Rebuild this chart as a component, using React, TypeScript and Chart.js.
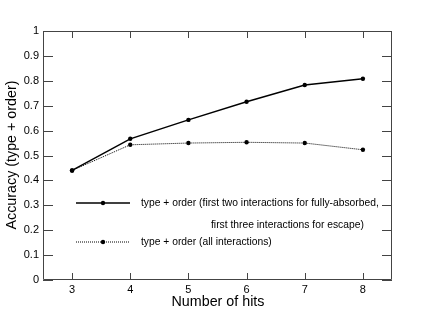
import React, { useEffect, useRef } from "react";
import { Chart, registerables } from "chart.js";

Chart.register(...registerables);

const hits = [3, 4, 5, 6, 7, 8];
const firstInteractions = [0.44, 0.567, 0.643, 0.716, 0.783, 0.808];
const allInteractions = [0.44, 0.543, 0.55, 0.553, 0.55, 0.523];
const yTicks = [0, 0.1, 0.2, 0.3, 0.4, 0.5, 0.6, 0.7, 0.8, 0.9, 1];
const legendLines1 = [
  "type + order (first two interactions for fully-absorbed,",
  "first three interactions for escape)",
];
const legendLines2 = ["type + order (all interactions)"];
const xTitle = "Number of hits";
const yTitle = "Accuracy (type + order)";

const FONT = "'Liberation Sans', Arial, Helvetica, sans-serif";

const framePlugin = {
  id: "rootFrame",
  afterDraw(chart: any) {
    const { ctx, chartArea: a, scales } = chart;
    const xs = scales.x;
    const ys = scales.y;
    ctx.save();
    ctx.strokeStyle = "#444";
    ctx.lineWidth = 1;
    ctx.beginPath();
    ctx.rect(a.left + 0.5, a.top + 0.5, a.right - a.left - 1, a.bottom - a.top - 1);
    ctx.stroke();
    ctx.beginPath();
    hits.forEach((h) => {
      const px = Math.round(xs.getPixelForValue(h)) + 0.5;
      ctx.moveTo(px, a.bottom);
      ctx.lineTo(px, a.bottom - 7);
      ctx.moveTo(px, a.top);
      ctx.lineTo(px, a.top + 7);
    });
    yTicks.forEach((v) => {
      const py = Math.round(ys.getPixelForValue(v)) + 0.5;
      ctx.moveTo(a.left, py);
      ctx.lineTo(a.left + 10, py);
      ctx.moveTo(a.right, py);
      ctx.lineTo(a.right - 10, py);
    });
    ctx.stroke();

    // axis titles
    ctx.fillStyle = "#000";
    ctx.font = `14.3px ${FONT}`;
    ctx.textAlign = "center";
    ctx.textBaseline = "middle";
    ctx.fillText(xTitle, 218, 302);
    ctx.translate(12, 155);
    ctx.rotate(-Math.PI / 2);
    ctx.fillText(yTitle, 0, 0);
    ctx.restore();

    // legend
    ctx.save();
    const drawEntry = (y: number, dash: number[], lw: number) => {
      ctx.strokeStyle = "#000";
      ctx.lineWidth = lw;
      ctx.setLineDash(dash);
      ctx.beginPath();
      ctx.moveTo(76, y);
      ctx.lineTo(130, y);
      ctx.stroke();
      ctx.setLineDash([]);
      ctx.fillStyle = "#000";
      ctx.beginPath();
      ctx.arc(103, y, 2.2, 0, Math.PI * 2);
      ctx.fill();
    };
    drawEntry(203, [], 1.5);
    drawEntry(242, [1, 1], 1);
    ctx.fillStyle = "#000";
    ctx.font = `10.3px ${FONT}`;
    ctx.textBaseline = "middle";
    ctx.textAlign = "left";
    ctx.fillText(legendLines1[0], 141, 203);
    ctx.fillText(legendLines1[1], 211, 225);
    ctx.fillText(legendLines2[0], 141, 242);
    ctx.restore();
  },
};

export default function App() {
  const ref = useRef<HTMLCanvasElement>(null);
  useEffect(() => {
    if (!ref.current) return;
    const chart = new Chart(ref.current, {
      type: "line",
      data: {
        datasets: [
          {
            label: legendLines1.join(" "),
            data: hits.map((h, i) => ({ x: h, y: firstInteractions[i] })),
            borderColor: "#000",
            backgroundColor: "#000",
            borderWidth: 1.5,
            pointRadius: 2.2,
            pointHoverRadius: 2.2,
            pointBorderWidth: 0,
            tension: 0,
          },
          {
            label: legendLines2[0],
            data: hits.map((h, i) => ({ x: h, y: allInteractions[i] })),
            borderColor: "#000",
            backgroundColor: "#000",
            borderWidth: 1,
            borderDash: [1, 1],
            pointRadius: 2.2,
            pointHoverRadius: 2.2,
            pointBorderWidth: 0,
            tension: 0,
          },
        ],
      },
      plugins: [framePlugin],
      options: {
        animation: false,
        responsive: false,
        events: [],
        layout: { padding: { top: 31, right: 44, left: 0, bottom: 0 } },
        plugins: { legend: { display: false }, tooltip: { enabled: false } },
        scales: {
          x: {
            type: "linear",
            min: 2.5,
            max: 8.5,
            afterBuildTicks: (s: any) => {
              s.ticks = hits.map((v) => ({ value: v }));
            },
            afterFit: (s: any) => {
              s.height = 31;
            },
            grid: { display: false, drawTicks: false },
            border: { display: false },
            ticks: {
              padding: 3,
              color: "#000",
              font: { family: FONT, size: 11 },
              maxRotation: 0,
              callback: (v: any) => String(v),
            },
          },
          y: {
            type: "linear",
            min: 0,
            max: 1,
            afterBuildTicks: (s: any) => {
              s.ticks = yTicks.map((v) => ({ value: v }));
            },
            afterFit: (s: any) => {
              s.width = 43;
            },
            grid: { display: false, drawTicks: false },
            border: { display: false },
            ticks: {
              padding: 4,
              color: "#000",
              font: { family: FONT, size: 11 },
              callback: (v: any) => String(Number(Number(v).toFixed(1))),
            },
          },
        },
      },
    });
    return () => chart.destroy();
  }, []);
  return (
    <div style={{ position: "absolute", left: 0, top: 0, width: 436, height: 311, background: "#fff" }}>
      <canvas ref={ref} width={436} height={311} />
    </div>
  );
}
